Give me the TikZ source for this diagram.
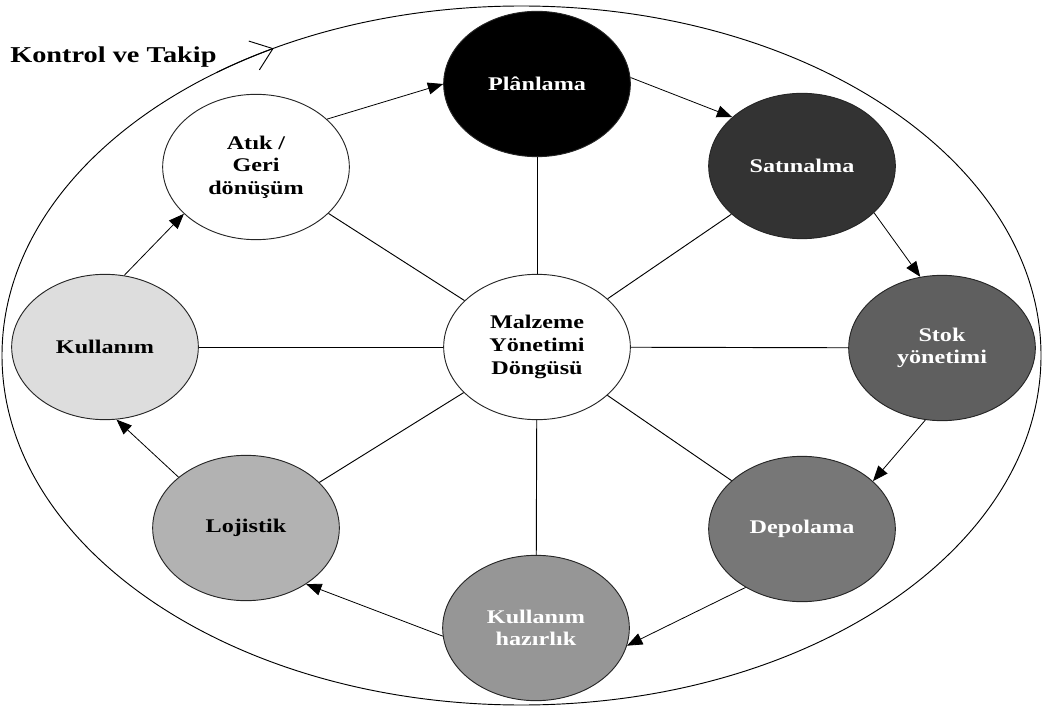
\documentclass[tikz,border=0pt]{standalone}
\usepackage{fontspec}
\usepackage{xcolor}
\usepackage{tikz}
\usetikzlibrary{shapes.geometric, arrows.meta, positioning}
\newfontfamily\cyclefont[FakeStretch=1.25]{Liberation Serif}
\definecolor{satgray}{RGB}{51, 51, 51}
\definecolor{stokgray}{RGB}{95, 95, 95}
\definecolor{depogray}{RGB}{119, 119, 119}
\definecolor{hazirgray}{RGB}{150, 150, 150}
\definecolor{lojgray}{RGB}{178, 178, 178}
\definecolor{kullgray}{RGB}{221, 221, 221}

\begin{document}
\begin{tikzpicture}[x=0.75pt, y=0.75pt,
  stage/.style={ellipse, draw=black!85, line width=0.7pt, minimum width=140pt,
    minimum height=109pt, inner sep=0pt, align=center,
    font=\cyclefont\bfseries\fontsize{14.5}{17}\selectfont},
  flow/.style={-{Triangle[length=11.5pt, width=9pt]}, line width=0.6pt},
  spoke/.style={line width=0.7pt}]
  \useasboundingbox (0,0) rectangle (1042,708);
  % outer control loop
  \draw[line width=0.7pt] (521.5,352.5) ellipse [x radius=519.5, y radius=349.5];
  \draw[line width=0.7pt, -{Straight Barb[length=15pt, width=23pt]}]
    ([shift={(126:519.5 and 349.5)}]521.5,352.5)
    arc [start angle=126, end angle=118.5, x radius=519.5, y radius=349.5];
  \node[anchor=base west, inner sep=0pt,
    font=\cyclefont\bfseries\fontsize{17}{20}\selectfont] (kontrol) at (10,645) {Kontrol ve Takip};
  % stages of the cycle
  \node[stage, fill=white] (mid) at (537,361) {Malzeme\\Yönetimi\\Döngüsü};
  \node[stage, fill=black, text=white] (plan) at (537,624) {Plânlama};
  \node[stage, fill=satgray, text=white] (sat) at (802,542) {Satınalma};
  \node[stage, fill=stokgray, text=white] (stok) at (942,360) {Stok\\yönetimi};
  \node[stage, fill=depogray, text=white] (depo) at (802,179) {Depolama};
  \node[stage, fill=hazirgray, text=white] (kh) at (536,80) {Kullanım\\hazırlık};
  \node[stage, fill=lojgray] (loj) at (246,180) {Lojistik};
  \node[stage, fill=kullgray] (kull) at (105,361) {Kullanım};
  \node[stage, fill=white] (atik) at (256,541) {Atık /\\Geri\\dönüşüm};
  % spokes to the hub
  \foreach \n in {plan,sat,stok,depo,kh,loj,kull,atik}
    \draw[spoke] (mid) -- (\n);
  % flow round the cycle
  \foreach \a/\sa/\b/\eb in {atik/34/plan/180, plan/4/sat/145, sat/-33/stok/107,
      stok/-103/depo/34, depo/-134/kh/-11, kh/-175/loj/-43,
      loj/143/kull/-81, kull/75/atik/213}
    \draw[flow] (\a.\sa) -- (\b.\eb);
\end{tikzpicture}
\end{document}
